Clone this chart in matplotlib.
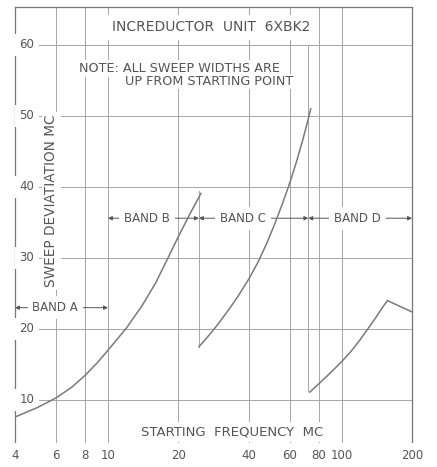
import matplotlib
matplotlib.use("Agg")
from matplotlib import pyplot as plt

# Values (starting frequency in MC, sweep deviation in MC)
band_ab_freq = [4, 5, 6, 7, 8, 9, 10, 12, 14, 16, 18, 20, 22.5, 25]
band_ab_dev = [7.6, 8.95, 10.3, 11.8, 13.5, 15.25, 17.0, 20.15, 23.3, 26.5, 29.9, 33.0, 36.3, 39.1]

band_c_freq = [24.5, 26, 28, 30, 33, 36, 40, 44, 48, 52, 56, 60, 64, 68, 72, 73.7]
band_c_dev = [17.5, 18.45, 19.7, 20.95, 22.8, 24.6, 27.0, 29.5, 32.2, 35.0, 37.8, 40.6,
              43.5, 46.5, 49.6, 51.0]

band_d_freq = [73, 80, 90, 100, 110, 120, 130, 140, 150, 157, 200]
band_d_dev = [11.1, 12.3, 13.9, 15.4, 16.9, 18.5, 20.1, 21.6, 23.1, 24.0, 22.4]

band_names = ["BAND A", "BAND B", "BAND C", "BAND D"]
band_edges = [4, 10, 24.5, 72, 200]

x_ticks = [4, 6, 8, 10, 20, 40, 60, 80, 100, 200]
x_tick_labels = ["4", "6", "8", "10", "20", "40", "60", "80", "100", "200"]
y_ticks = [10, 20, 30, 40, 50, 60]

ink = "#555555"
grid_c = "#a0a0a0"
curve_c = "#7a7a7a"


def box(pad):
    return dict(facecolor="white", edgecolor="none", pad=pad)


fig = plt.figure(figsize=(4.37, 4.67), dpi=100)
ax = fig.add_axes([15 / 437, 0, 397 / 437, 1 - 7 / 467])
ax.set_xscale("log")
ax.set_xlim(4, 200)
ax.set_ylim(0.56, 65.35)

ax.set_xticks(x_ticks)
ax.set_yticks(y_ticks)
ax.minorticks_off()
ax.tick_params(length=0, labelbottom=False, labelleft=False)
ax.grid(True, color=grid_c, lw=0.65)
ax.set_axisbelow(True)
for side in ["left", "right", "top"]:
    ax.spines[side].set_color("#777777")
    ax.spines[side].set_linewidth(0.9)
ax.spines["bottom"].set_visible(False)

# Curves
ax.plot(band_ab_freq, band_ab_dev, color=curve_c, lw=1.1, zorder=5)
ax.plot(band_c_freq, band_c_dev, color=curve_c, lw=1.1, zorder=5)
ax.plot(band_d_freq, band_d_dev, color=curve_c, lw=1.1, zorder=5)

# Band boundary lines
ax.plot([band_edges[2], band_edges[2]], [band_c_dev[0], 39.5], color=grid_c, lw=0.65, zorder=1)
ax.plot([band_edges[3], band_edges[3]], [band_d_dev[0] + 0.2, 60], color=grid_c, lw=0.65, zorder=1)

# Band labels with dimension arrows
band_label_x = [5.95, 14.7, 37.8, 117]
band_label_y = [23.0, 35.6, 35.6, 35.6]
for i, name in enumerate(band_names):
    y = band_label_y[i]
    ax.annotate("", xy=(band_edges[i], y), xytext=(band_edges[i + 1], y),
                arrowprops=dict(arrowstyle="<|-|>", color=ink, lw=0.7,
                                mutation_scale=6, shrinkA=0, shrinkB=0),
                zorder=2)
    ax.text(band_label_x[i], y, name, ha="center", va="center", fontsize=8.5,
            color=ink, bbox=box(3.5), zorder=3)

# Axis numbers drawn inside the frame like the original sheet
for v in y_ticks:
    ax.text(4.49, v, str(v), ha="center", va="center", fontsize=8.5, color=ink,
            bbox=box(3.5), zorder=3)
for v, lab in zip(x_ticks, x_tick_labels):
    ax.text(v, 2.25, lab, ha="center", va="center", fontsize=8.5, color=ink,
            bbox=box(4), zorder=3)

ax.text(33.9, 5.5, "STARTING  FREQUENCY  MC", ha="center", va="center",
        fontsize=9.5, color=ink, bbox=box(2.5), zorder=3)
ax.text(5.72, 38.0, "SWEEP DEVIATIATION MC", ha="center", va="center",
        rotation=90, fontsize=9.8, color=ink, bbox=box(2), zorder=3)

ax.text(27.7, 62.5, "INCREDUCTOR  UNIT  6XBK2", ha="center", va="center",
        fontsize=10, color=ink, bbox=box(4), zorder=3)
ax.text(20.2, 56.7, "NOTE: ALL SWEEP WIDTHS ARE", ha="center", va="center",
        fontsize=9.2, color=ink, bbox=box(1.5), zorder=3)
ax.text(27.1, 54.85, "UP FROM STARTING POINT", ha="center", va="center",
        fontsize=9.2, color=ink, bbox=box(1), zorder=3)

fig.savefig("out.png", dpi=100)
